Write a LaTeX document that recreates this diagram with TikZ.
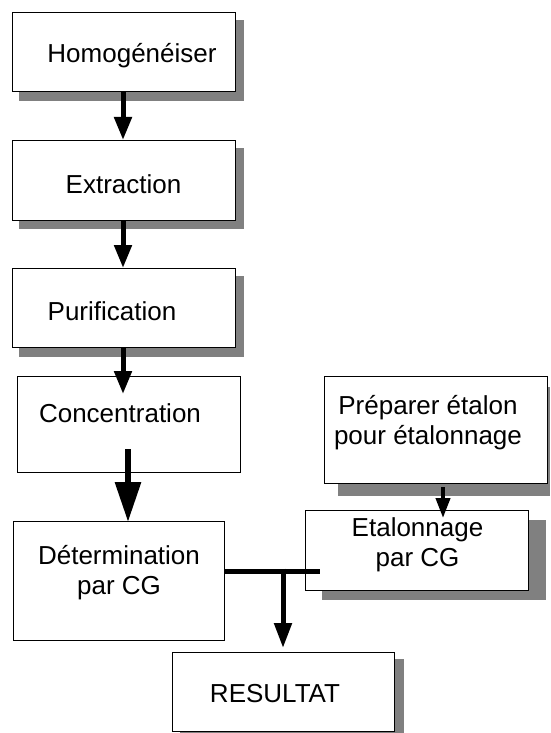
\documentclass[tikz,border=0pt]{standalone}
\usepackage{fontspec}
\setmainfont{Liberation Sans}
\usetikzlibrary{arrows.meta}
\definecolor{shadowgray}{RGB}{128,128,128}
\tikzset{
  boxframe/.style={draw=black, line width=1pt, fill=white},
  boxshadow/.style={fill=shadowgray, draw=none},
  boxtext/.style={font=\fontsize{26}{30}\selectfont, align=center, inner sep=0pt},
  flow/.style={line width=5pt, -{Triangle[width=17pt,length=23pt]}},
  bigflow/.style={line width=6pt, -{Triangle[width=25pt,length=40pt]}},
  smallflow/.style={line width=4pt, -{Triangle[width=14pt,length=20pt]}}
}
\begin{document}
\begin{tikzpicture}[x=1pt,y=-1pt]
\useasboundingbox (0,0) rectangle (550,733);

% drop shadows
\fill[boxshadow] (19,20) rectangle (244,101);
\fill[boxshadow] (19,148) rectangle (244,229);
\fill[boxshadow] (19,276) rectangle (244,357);
\fill[boxshadow] (338,387) rectangle (550,496);
\fill[boxshadow] (322,520) rectangle (546,600);
\fill[boxshadow] (180,659) rectangle (404,740);

% process boxes
\draw[boxframe] (12,13) rectangle (235,92) coordinate[pos=0.5] (b1);
\draw[boxframe] (12,140) rectangle (235,220) coordinate[pos=0.5] (b2);
\draw[boxframe] (12,268) rectangle (235,347) coordinate[pos=0.5] (b3);
\draw[boxframe] (17,376) rectangle (240,472) coordinate[pos=0.5] (b4);
\draw[boxframe] (13,521) rectangle (224,640) coordinate[pos=0.5] (b5);
\draw[boxframe] (324,376) rectangle (547,483) coordinate[pos=0.5] (b6);
\draw[boxframe] (305,510) rectangle (528,590) coordinate[pos=0.5] (b7);
\draw[boxframe] (172,652) rectangle (394,731) coordinate[pos=0.5] (b8);

% box texts
\node[boxtext] (t1) at (132,56) {Homogénéiser};
\node[boxtext] (t2) at (123.5,184) {Extraction};
\node[boxtext] (t3) at (112,311) {Purification};
\node[boxtext] (t4) at (120,413) {Concentration};
\node[boxtext] (t5) at (119,573) {Détermination\\par CG};
\node[boxtext] (t6) at (428,423) {Préparer étalon\\pour étalonnage};
\node[boxtext] (t7) at (417.5,545) {Etalonnage\\par CG};
\node[boxtext] (t8) at (275,694) {RESULTAT};

% connector end points
\coordinate (a1s) at (123,92);   \coordinate (a1e) at (123,140);
\coordinate (a2s) at (123,220);  \coordinate (a2e) at (123,268);
\coordinate (a3s) at (123,347);  \coordinate (a3e) at (123,394);
\coordinate (a4s) at (128,449);  \coordinate (a4e) at (128,522);
\coordinate (a5s) at (443,487);  \coordinate (a5e) at (443,518);
\coordinate (jl) at (224,571);   \coordinate (jr) at (320,571);
\coordinate (js) at (283,568.5); \coordinate (je) at (283,648);

% flow arrows
\draw[flow] (a1s) -- (a1e);
\draw[flow] (a2s) -- (a2e);
\draw[flow] (a3s) -- (a3e);
\draw[bigflow] (a4s) -- (a4e);
\draw[smallflow] (a5s) -- (a5e);
\draw[line width=5pt] (jl) -- (jr);
\draw[line width=5pt, -{Triangle[width=17pt,length=25pt]}] (js) -- (je);
\end{tikzpicture}
\end{document}
